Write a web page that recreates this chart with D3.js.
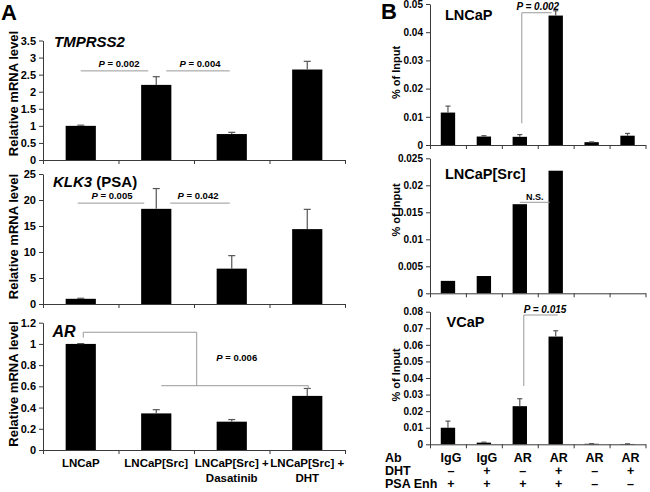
<!DOCTYPE html>
<html><head><meta charset="utf-8">
<script src="https://cdn.jsdelivr.net/npm/d3@7"></script>
<style>
body{margin:0;background:#fff}
svg{display:block;font-family:"Liberation Sans",Arial,sans-serif;font-weight:bold}
</style>
</head><body>
<svg id="c" width="650" height="492"></svg>
<script>
// ---------- Panel A data ----------
const categoriesA = [["LNCaP"], ["LNCaP[Src]"], ["LNCaP[Src] +", "Dasatinib"], ["LNCaP[Src] +", "DHT"]];
const tmprss2 = [1.0, 2.2, 0.76, 2.65];
const tmprss2Err = [0.02, 0.24, 0.05, 0.24];
const tmprss2Ticks = [0, 0.5, 1, 1.5, 2, 2.5, 3, 3.5];
const klk3 = [1.0, 18.3, 6.8, 14.4];
const klk3Err = [0.1, 3.9, 2.5, 3.8];
const klk3Ticks = [0, 5, 10, 15, 20, 25];
const arLevel = [1.0, 0.345, 0.267, 0.51];
const arErr = [0.003, 0.035, 0.02, 0.07];
const arTicks = [0, 0.2, 0.4, 0.6, 0.8, 1, 1.2];

// ---------- Panel B data ----------
const abRow = ["IgG", "IgG", "AR", "AR", "AR", "AR"];
const dhtRow = ["\u2013", "+", "\u2013", "+", "\u2013", "+"];
const psaRow = ["+", "+", "+", "+", "\u2013", "\u2013"];
const lncap = [0.0115, 0.003, 0.0029, 0.0459, 0.001, 0.0033];
const lncapErr = [0.0023, 0.0003, 0.0008, 0.0017, 0.0001, 0.0008];
const lncapTicks = [0, 0.01, 0.02, 0.03, 0.04, 0.05];
const lncapSrc = [0.0023, 0.0032, 0.0165, 0.0227, 0, 0];
const lncapSrcTicks = [0, 0.005, 0.01, 0.015, 0.02, 0.025];
const vcap = [0.01, 0.001, 0.023, 0.065, 0.0003, 0.0002];
const vcapErr = [0.004, 0.0003, 0.0045, 0.0035, 0.0001, 0.0001];
const vcapTicks = [0, 0.01, 0.02, 0.03, 0.04, 0.05, 0.06, 0.07, 0.08];

const svg = d3.select("#c");
const AXIS = "#3a3a3a", ERR = "#555", ANN = "#999";

function fmt(v) { return String(+v.toFixed(3)); }

function barChart(o) {
  const n = o.values.length;
  const x = d3.scaleBand().domain(d3.range(n)).range(o.xr).paddingInner(0.6).paddingOuter(0.3);
  const y = d3.scaleLinear().domain([0, o.max]).range(o.yr);
  const g = svg.append("g");
  g.selectAll("rect.bar").data(o.values).join("rect")
    .attr("x", (d, i) => x(i)).attr("width", x.bandwidth())
    .attr("y", d => y(d)).attr("height", d => y(0) - y(d))
    .attr("fill", "#000");
  if (o.errs) {
    const eg = g.append("g").attr("stroke", ERR).attr("stroke-width", 1.2);
    o.errs.forEach((e, i) => {
      const cx = x(i) + x.bandwidth() / 2;
      eg.append("line").attr("x1", cx).attr("x2", cx).attr("y1", y(o.values[i])).attr("y2", y(o.values[i] + e));
      eg.append("line").attr("x1", cx - o.cap).attr("x2", cx + o.cap).attr("y1", y(o.values[i] + e)).attr("y2", y(o.values[i] + e));
    });
  }
  const ya = g.append("g").attr("transform", `translate(${o.xr[0]},0)`)
    .call(d3.axisLeft(y).tickValues(o.ticks).tickFormat(fmt).tickSize(4).tickSizeOuter(0));
  ya.selectAll("text").attr("font-size", o.tickFont).attr("font-family", "Liberation Sans, Arial").attr("font-weight", "bold").attr("fill", "#000");
  ya.selectAll("path,line").attr("stroke", AXIS);
  const xb = d3.scaleLinear().domain([0, n]).range(o.xr);
  const xa = g.append("g").attr("transform", `translate(0,${y(0)})`)
    .call(d3.axisBottom(xb).tickValues(d3.range(n + 1)).tickFormat("").tickSize(4).tickSizeOuter(0));
  xa.selectAll("path,line").attr("stroke", AXIS);
  return { x, y, c: i => x(i) + x.bandwidth() / 2 };
}

function ylabel(text, x, cy, size) {
  svg.append("text").attr("transform", `translate(${x},${cy}) rotate(-90)`)
    .attr("text-anchor", "middle").attr("font-size", size).text(text);
}

function pText(x, y, value, size, italicAll) {
  const t = svg.append("text").attr("x", x).attr("y", y).attr("text-anchor", "middle").attr("font-size", size);
  t.append("tspan").attr("font-style", "italic").text("P");
  t.append("tspan").attr("font-style", italicAll ? "italic" : "normal").text(" = " + value);
}

function hline(x1, x2, yv) {
  svg.append("line").attr("x1", x1).attr("x2", x2).attr("y1", yv).attr("y2", yv).attr("stroke", ANN).attr("stroke-width", 1);
}
function path(pts) {
  svg.append("path").attr("d", d3.line()(pts)).attr("fill", "none").attr("stroke", ANN).attr("stroke-width", 1);
}

// ================= Panel A =================
const AX = [43, 345];
const t1 = barChart({ xr: AX, yr: [160, 40.5], max: 3.5, ticks: tmprss2Ticks, values: tmprss2, errs: tmprss2Err, cap: 3.5, tickFont: 11 });
const t2 = barChart({ xr: AX, yr: [304, 174], max: 25, ticks: klk3Ticks, values: klk3, errs: klk3Err, cap: 3.5, tickFont: 11 });
const t3 = barChart({ xr: AX, yr: [450, 322.7], max: 1.2, ticks: arTicks, values: arLevel, errs: arErr, cap: 3.5, tickFont: 11 });

svg.append("text").attr("x", 1).attr("y", 20).attr("font-size", 22).text("A");
[93.5, 236.5, 384].forEach(cy => ylabel("Relative mRNA level", 17.5, cy, 13));

function title(x, y, parts, size) {
  const t = svg.append("text").attr("x", x).attr("y", y).attr("font-size", size);
  parts.forEach(p => t.append("tspan").attr("font-style", p[1] ? "italic" : "normal").text(p[0]));
}
title(54, 47, [["TMPRSS2", true]], 15);
title(53, 187, [["KLK3", true], [" (PSA)", false]], 15);
title(52.5, 337, [["AR", true]], 16);

{
  const yv = t1.y(2.61);
  hline(t1.c(0), t1.c(1) - 8, yv); pText(119, yv - 4, "0.002", 9.5);
  hline(t1.c(1) + 10, t1.c(2) - 2, yv); pText(200, yv - 4, "0.004", 9.5);
}
{
  const yv = t2.y(19.4);
  hline(t2.c(0) - 3, t2.c(1) - 12, yv); pText(112, yv - 4, "0.005", 9.5);
  hline(t2.c(1) + 14, t2.c(2) - 2, yv); pText(198, yv - 4, "0.042", 9.5);
}
{
  const yTop = t3.y(1.11), yLow = t3.y(0.606);
  path([[t3.c(0) + 2.5, t3.y(1.06)], [t3.c(0) + 2.5, yTop], [196.7, yTop], [196.7, yLow]]);
  path([[t3.c(1) + 5, yLow], [t3.c(3) + 1, yLow], [t3.c(3) + 1, yLow + 3]]);
  pText(236.7, 361, "0.006", 9.5);
}
categoriesA.forEach((lines, i) => {
  lines.forEach((s, k) => {
    svg.append("text").attr("x", t3.c(i)).attr("y", 467 + k * 14.5).attr("text-anchor", "middle").attr("font-size", 11.5).text(s);
  });
});

// ================= Panel B =================
const BX = [430, 645.5];
const b1 = barChart({ xr: BX, yr: [145, 4], max: 0.05, ticks: lncapTicks, values: lncap, errs: lncapErr, cap: 2.5, tickFont: 10 });
const b2 = barChart({ xr: BX, yr: [293.3, 158.3], max: 0.025, ticks: lncapSrcTicks, values: lncapSrc, errs: null, cap: 2.5, tickFont: 10 });
const b3 = barChart({ xr: BX, yr: [444.3, 311.7], max: 0.08, ticks: vcapTicks, values: vcap, errs: vcapErr, cap: 2.5, tickFont: 10 });

svg.append("text").attr("x", 381).attr("y", 19).attr("font-size", 22).text("B");
ylabel("% of Input", 400, 72.5, 11);
ylabel("% of Input", 400, 210, 11);
ylabel("% of Input", 400, 375, 11);

title(445, 20, [["LNCaP", false]], 14.5);
title(445, 178.5, [["LNCaP[Src]", false]], 14.5);
title(446.5, 327, [["VCaP", false]], 14.5);

{
  const xv = b1.c(2) + 2;
  path([[xv, b1.y(0.0077)], [xv, b1.y(0.0469)], [b1.c(3) - 4, b1.y(0.0469)]]);
  pText((b1.c(2) + b1.c(3)) / 2, 9.5, "0.002", 10, true);
}
{
  const yv = b2.y(0.01685);
  hline(b2.c(2), b2.c(3) - 6, yv);
  svg.append("text").attr("x", (b2.c(2) + b2.c(3) - 6) / 2).attr("y", yv - 2.5).attr("text-anchor", "middle").attr("font-size", 9).text("N.S.");
}
{
  const xv = b3.c(2) + 4;
  path([[xv, b3.y(0.0352)], [xv, b3.y(0.078)], [b3.c(3) + 2, b3.y(0.078)]]);
  pText(545, 313, "0.015", 10, true);
}
const rows = [["Ab", abRow, 462], ["DHT", dhtRow, 475], ["PSA Enh", psaRow, 488]];
rows.forEach(([name, vals, yb]) => {
  svg.append("text").attr("x", 385).attr("y", yb).attr("font-size", 12.5).text(name);
  vals.forEach((v, i) => {
    svg.append("text").attr("x", b3.c(i) + 3).attr("y", yb).attr("text-anchor", "middle").attr("font-size", 12.5).text(v);
  });
});
</script>
</body></html>
